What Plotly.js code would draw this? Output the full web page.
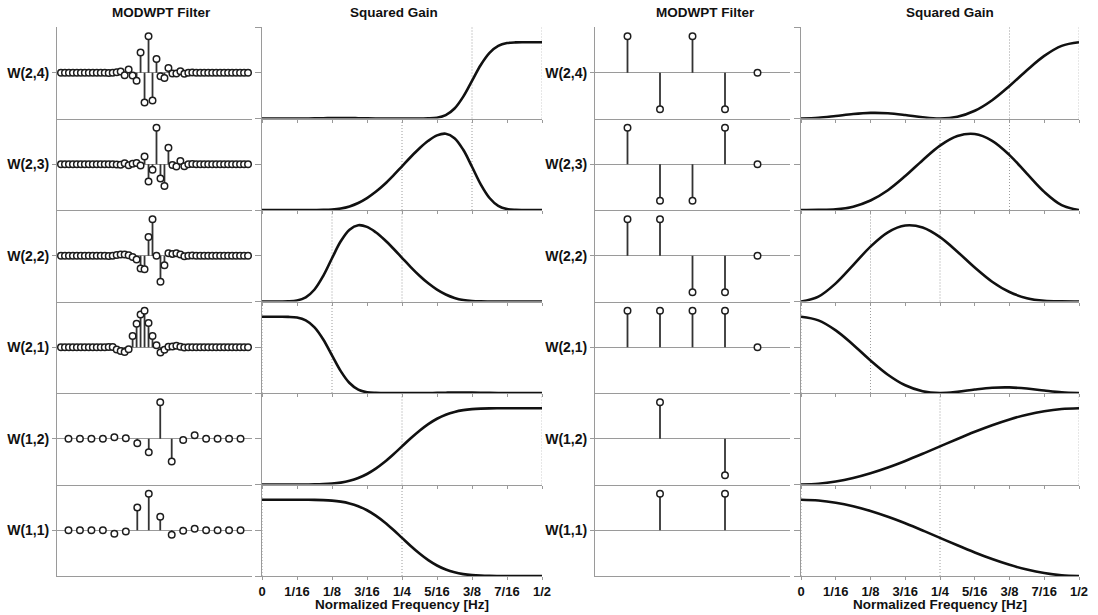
<!DOCTYPE html>
<html>
<head>
<meta charset="utf-8">
<script src="https://cdn.plot.ly/plotly-3.0.1.min.js"></script>
<style>
  html, body { margin: 0; padding: 0; background: #ffffff; }
  #chart { width: 1098px; height: 615px; }
</style>
</head>
<body>
<div id="chart"></div>
<script>
// ---- Row labels (top to bottom) ----
const rowLabels = ['W(2,4)', 'W(2,3)', 'W(2,2)', 'W(2,1)', 'W(1,2)', 'W(1,1)'];

// Nominal pass-band edges for each row, cycles per sample
const bandEdges = [[0.375, 0.5], [0.25, 0.375], [0.125, 0.25], [0, 0.125], [0.25, 0.5], [0, 0.25]];

// Frequency axis ticks
const freqTicks = [0, 0.0625, 0.125, 0.1875, 0.25, 0.3125, 0.375, 0.4375, 0.5];
const freqTickText = ['0', '1/16', '1/8', '3/16', '1/4', '5/16', '3/8', '7/16', '1/2'];

// ---- LA(8) MODWPT filters ----
const laLagsL1 = [0, 1, 2, 3, 4, 5, 6, 7, 8, 9, 10, 11, 12, 13, 14, 15];
const laLagsL2 = [0, 1, 2, 3, 4, 5, 6, 7, 8, 9, 10, 11, 12, 13, 14, 15, 16, 17, 18, 19, 20, 21, 22, 23,
                  24, 25, 26, 27, 28, 29, 30, 31, 32, 33, 34, 35, 36, 37, 38, 39, 40, 41, 42, 43, 44, 45, 46, 47];

const laW24 = [0, 0, 0, 0, 0, 0, 0, 0, 0, 0, 0, 0,
  -0.0012, -0.0005, 0.0033, 0.0111, -0.0210, 0.0264, -0.0225, -0.0645, 0.1653, -0.2428, 0.2992,
  -0.2261, 0.1125, -0.0290, -0.0431, 0.0381, -0.0052, -0.0054, 0.0131, -0.0085, -0.0005, 0.0012,
  0, 0, 0, 0, 0, 0, 0, 0, 0, 0, 0, 0, 0, 0];
const laW23 = [0, 0, 0, 0, 0, 0, 0, 0, 0, 0, 0, 0,
  0.0005, 0.0002, -0.0014, -0.0047, 0.0107, -0.0105, 0.0047, 0.0110, -0.0123, 0.0746, -0.1661,
  -0.0525, 0.3516, -0.1373, -0.2092, 0.1592, -0.0083, -0.0228, 0.0309, -0.0200, -0.0011, 0.0029,
  0, 0, 0, 0, 0, 0, 0, 0, 0, 0, 0, 0, 0, 0];
const laW22 = [0, 0, 0, 0, 0, 0, 0, 0, 0, 0, 0, 0,
  -0.0012, -0.0005, 0.0075, 0.0128, 0.0117, 0.0049, -0.0117, -0.0356, -0.1194, -0.1265, 0.1751,
  0.3436, -0.0011, -0.2442, -0.0894, 0.0246, 0.0176, 0.0239, 0.0115, -0.0042, -0.0005, 0.0012,
  0, 0, 0, 0, 0, 0, 0, 0, 0, 0, 0, 0, 0, 0];
const laW21 = [0, 0, 0, 0, 0, 0, 0, 0, 0, 0, 0, 0,
  0.0029, 0.0011, -0.0177, -0.0300, -0.0375, -0.0155, 0.0894, 0.1883, 0.2630, 0.2934, 0.1944,
  0.0893, 0.0151, -0.0415, -0.0210, 0.0042, 0.0068, 0.0120, 0.0049, -0.0018, -0.0002, 0.0005,
  0, 0, 0, 0, 0, 0, 0, 0, 0, 0, 0, 0, 0, 0];
const laW12 = [0, 0, 0, 0, 0.0228, 0.0089, -0.0702, -0.2106, 0.5683, -0.3519, -0.0210, 0.0536, 0, 0, 0, 0];
const laW11 = [0, 0, 0, 0, -0.0536, -0.0210, 0.3519, 0.5683, 0.2106, -0.0702, -0.0089, 0.0228, 0, 0, 0, 0];

// ---- Haar MODWPT filters ----
const haarLagsL2 = [1, 2, 3, 4, 5];
const haarLagsL1 = [2, 4];
const haarW24 = [0.25, -0.25, 0.25, -0.25, 0];
const haarW23 = [0.25, -0.25, -0.25, 0.25, 0];
const haarW22 = [0.25, 0.25, -0.25, -0.25, 0];
const haarW21 = [0.25, 0.25, 0.25, 0.25, 0];
const haarW12 = [0.5, -0.5];
const haarW11 = [0.5, 0.5];

// ---- Squared gain, LA(8) (relative to peak) ----
const freqLA = [0, 0.0156, 0.0313, 0.0469, 0.0625, 0.0781, 0.0938, 0.1094, 0.125, 0.1406, 0.1563,
  0.1719, 0.1875, 0.2031, 0.2188, 0.2344, 0.25, 0.2656, 0.2813, 0.2969, 0.3125, 0.3281, 0.3438,
  0.3594, 0.375, 0.3906, 0.4063, 0.4219, 0.4375, 0.4531, 0.4688, 0.4844, 0.5];
const laGain24 = [0, 0, 0, 0, 0.0001, 0.0004, 0.0012, 0.0031, 0.0056, 0.0072, 0.0066, 0.0040, 0.0015,
  0.0003, 0, 0, 0, 0, 0.0001, 0.0011, 0.0096, 0.0437, 0.1310, 0.2874, 0.4945, 0.7024, 0.8612, 0.9519,
  0.9888, 0.9986, 1, 1, 1];
const laGain23 = [0, 0, 0, 0, 0, 0, 0.0002, 0.0015, 0.0064, 0.0198, 0.0472, 0.0923, 0.1560, 0.2382,
  0.3379, 0.4517, 0.5735, 0.6953, 0.8091, 0.9073, 0.9783, 1.0000, 0.9421, 0.7894, 0.5672, 0.3364,
  0.1575, 0.0547, 0.0127, 0.0016, 0.0001, 0, 0];
const laGain22 = [0, 0, 0.0001, 0.0016, 0.0127, 0.0547, 0.1575, 0.3364, 0.5672, 0.7894, 0.9421, 1.0000,
  0.9783, 0.9073, 0.8091, 0.6953, 0.5735, 0.4517, 0.3379, 0.2382, 0.1560, 0.0923, 0.0472, 0.0198,
  0.0064, 0.0015, 0.0002, 0, 0, 0, 0, 0, 0];
const laGain21 = [1, 1, 1, 0.9986, 0.9888, 0.9519, 0.8612, 0.7024, 0.4945, 0.2874, 0.1310, 0.0437,
  0.0096, 0.0011, 0.0001, 0, 0, 0, 0, 0.0003, 0.0015, 0.0040, 0.0066, 0.0072, 0.0056, 0.0031, 0.0012,
  0.0004, 0.0001, 0, 0, 0, 0];
const laGain12 = [0, 0, 0, 0, 0.0001, 0.0004, 0.0014, 0.0044, 0.0111, 0.0244, 0.0477, 0.0845, 0.1375,
  0.2079, 0.2946, 0.3938, 0.5, 0.6062, 0.7054, 0.7921, 0.8625, 0.9155, 0.9523, 0.9756, 0.9889, 0.9956,
  0.9986, 0.9996, 0.9999, 1, 1, 1, 1];
const laGain11 = [1, 1, 1, 1, 0.9999, 0.9996, 0.9986, 0.9956, 0.9889, 0.9756, 0.9523, 0.9155, 0.8625,
  0.7921, 0.7054, 0.6062, 0.5, 0.3938, 0.2946, 0.2079, 0.1375, 0.0845, 0.0477, 0.0244, 0.0111, 0.0044,
  0.0014, 0.0004, 0.0001, 0, 0, 0, 0];

// ---- Squared gain, Haar (relative to peak) ----
const freqHaar = [0, 0.0313, 0.0625, 0.0938, 0.125, 0.1563, 0.1875, 0.2188, 0.25, 0.2813, 0.3125,
  0.3438, 0.375, 0.4063, 0.4375, 0.4688, 0.5];
const haarGain24 = [0, 0.0092, 0.0325, 0.0583, 0.0732, 0.0686, 0.0452, 0.0153, 0, 0.0228, 0.1012,
  0.2401, 0.4268, 0.6330, 0.8211, 0.9527, 1];
const haarGain23 = [0, 0.001, 0.009, 0.044, 0.124, 0.259, 0.445, 0.653, 0.844, 0.970, 0.996, 0.907,
  0.720, 0.477, 0.238, 0.064, 0];
const haarGain22 = [0, 0.064, 0.238, 0.477, 0.720, 0.907, 0.996, 0.970, 0.844, 0.653, 0.445, 0.259,
  0.124, 0.044, 0.009, 0.001, 0];
const haarGain21 = [1, 0.9527, 0.8211, 0.6330, 0.4268, 0.2401, 0.1012, 0.0228, 0, 0.0153, 0.0452,
  0.0686, 0.0732, 0.0583, 0.0325, 0.0092, 0];
const haarGain12 = [0, 0.0096, 0.0381, 0.0843, 0.1464, 0.2222, 0.3087, 0.4025, 0.5, 0.5975, 0.6913,
  0.7778, 0.8536, 0.9157, 0.9619, 0.9904, 1];
const haarGain11 = [1, 0.9904, 0.9619, 0.9157, 0.8536, 0.7778, 0.6913, 0.5975, 0.5, 0.4025, 0.3087,
  0.2222, 0.1464, 0.0843, 0.0381, 0.0096, 0];

// ---- Column contents ----
const laStems = [
  [laLagsL2, laW24], [laLagsL2, laW23], [laLagsL2, laW22], [laLagsL2, laW21],
  [laLagsL1, laW12], [laLagsL1, laW11]
];
const haarStems = [
  [haarLagsL2, haarW24], [haarLagsL2, haarW23], [haarLagsL2, haarW22], [haarLagsL2, haarW21],
  [haarLagsL1, haarW12], [haarLagsL1, haarW11]
];
const laGains = [laGain24, laGain23, laGain22, laGain21, laGain12, laGain11];
const haarGains = [haarGain24, haarGain23, haarGain22, haarGain21, haarGain12, haarGain11];

// ---- Layout geometry ----
const W = 1098, H = 615, TOP = 27, BOTTOM = 576;
const plotH = BOTTOM - TOP;
const colPx = [[57, 252], [262, 542], [595, 790], [801, 1079]];
const stemXRange = { la1: [-1, 16], la2: [-1, 48], haar: [0, 6] };

const FONT = '"Liberation Sans", Arial, Helvetica, sans-serif';
const AXIS_GREY = '#9a9a9a';

const traces = [];
const shapes = [];
const annotations = [];
const layout = {
  width: W, height: H,
  margin: { l: 0, r: 0, t: TOP, b: H - BOTTOM, pad: 0 },
  paper_bgcolor: '#ffffff', plot_bgcolor: '#ffffff',
  showlegend: false,
  font: { family: FONT, color: '#111111' }
};

let axisNum = 0;
function axisNames() {
  axisNum += 1;
  const s = axisNum === 1 ? '' : String(axisNum);
  return { xa: 'xaxis' + s, ya: 'yaxis' + s, x: 'x' + s, y: 'y' + s };
}

function rowDomain(r) {
  return [1 - (r + 1) / 6, 1 - r / 6];
}

function stemPanel(col, r, lags, vals, xRange) {
  const a = axisNames();
  const xd = [colPx[col][0] / W, colPx[col][1] / W];
  const maxAbs = Math.max.apply(null, vals.map(Math.abs));
  const lim = maxAbs * 1.25;
  layout[a.xa] = {
    domain: xd, anchor: a.y, range: xRange,
    showline: true, linecolor: AXIS_GREY, linewidth: 1,
    showgrid: false, zeroline: false, ticks: '', showticklabels: false, fixedrange: true
  };
  layout[a.ya] = {
    domain: rowDomain(r), anchor: a.x, range: [-lim, lim],
    showline: true, linecolor: AXIS_GREY, linewidth: 1,
    showgrid: false, zeroline: true, zerolinecolor: AXIS_GREY, zerolinewidth: 1,
    tickvals: [0], ticktext: [rowLabels[r]], ticks: 'outside', ticklen: 4, tickcolor: AXIS_GREY,
    tickfont: { family: FONT, size: 14, weight: 700, color: '#111111' }, fixedrange: true
  };
  const sx = [], sy = [];
  lags.forEach((x, i) => {
    if (vals[i] !== 0) { sx.push(x, x, null); sy.push(0, vals[i], null); }
  });
  traces.push({
    type: 'scatter', mode: 'lines', x: sx, y: sy, xaxis: a.x, yaxis: a.y,
    line: { color: '#333333', width: 1.8 }, hoverinfo: 'skip'
  });
  traces.push({
    type: 'scatter', mode: 'markers', x: lags, y: vals, xaxis: a.x, yaxis: a.y,
    marker: { symbol: 'circle', size: 6.5, color: '#ffffff', line: { color: '#1e1e1e', width: 1.5 } },
    hoverinfo: 'x+y'
  });
}

function gainPanel(col, r, freq, gain) {
  const a = axisNames();
  const xd = [colPx[col][0] / W, colPx[col][1] / W];
  const bottom = r === 5;
  layout[a.xa] = {
    domain: xd, anchor: a.y, range: [0, 0.5],
    showline: true, linecolor: AXIS_GREY, linewidth: 1,
    showgrid: false, zeroline: false,
    tickvals: freqTicks, ticktext: freqTickText, showticklabels: bottom,
    ticks: 'outside', ticklen: 3, tickcolor: AXIS_GREY,
    tickfont: { family: FONT, size: 13, weight: 700, color: '#111111' }, fixedrange: true
  };
  layout[a.ya] = {
    domain: rowDomain(r), anchor: a.x, range: [0, 1.2],
    showline: true, linecolor: AXIS_GREY, linewidth: 1,
    showgrid: false, zeroline: false,
    tickvals: [0, 0.6, 1.2], showticklabels: false,
    ticks: 'outside', ticklen: 6, tickcolor: AXIS_GREY, fixedrange: true
  };
  bandEdges[r].forEach(e => {
    shapes.push({
      type: 'line', xref: a.x, yref: a.y + ' domain', x0: e, x1: e, y0: 0, y1: 1,
      line: { color: '#9c9c9c', width: 1, dash: '1px,2px' }, layer: 'below'
    });
  });
  traces.push({
    type: 'scatter', mode: 'lines', x: freq, y: gain, xaxis: a.x, yaxis: a.y,
    line: { color: '#111111', width: 2.6, shape: 'spline', smoothing: 1 }
  });
}

for (let r = 0; r < 6; r++) {
  const laRange = r < 4 ? stemXRange.la2 : stemXRange.la1;
  stemPanel(0, r, laStems[r][0], laStems[r][1], laRange);
  gainPanel(1, r, freqLA, laGains[r]);
  stemPanel(2, r, haarStems[r][0], haarStems[r][1], stemXRange.haar);
  gainPanel(3, r, freqHaar, haarGains[r]);
}

// Column headings and frequency axis captions
const headY = 1 + (TOP - 13) / plotH;
const footY = -(604 - BOTTOM) / plotH;
const heads = [
  { x: 161, text: 'MODWPT Filter' }, { x: 394, text: 'Squared Gain' },
  { x: 705, text: 'MODWPT Filter' }, { x: 950, text: 'Squared Gain' }
];
heads.forEach(h => annotations.push({
  xref: 'paper', yref: 'paper', x: h.x / W, y: headY, xanchor: 'center', yanchor: 'middle',
  text: h.text, showarrow: false, font: { family: FONT, size: 13.5, weight: 700, color: '#111111' }
}));
[402, 940].forEach(cx => annotations.push({
  xref: 'paper', yref: 'paper', x: cx / W, y: footY, xanchor: 'center', yanchor: 'middle',
  text: 'Normalized Frequency [Hz]', showarrow: false,
  font: { family: FONT, size: 13.5, weight: 700, color: '#111111' }
}));

layout.shapes = shapes;
layout.annotations = annotations;

Plotly.newPlot('chart', traces, layout, { staticPlot: true, displayModeBar: false });
</script>
</body>
</html>
